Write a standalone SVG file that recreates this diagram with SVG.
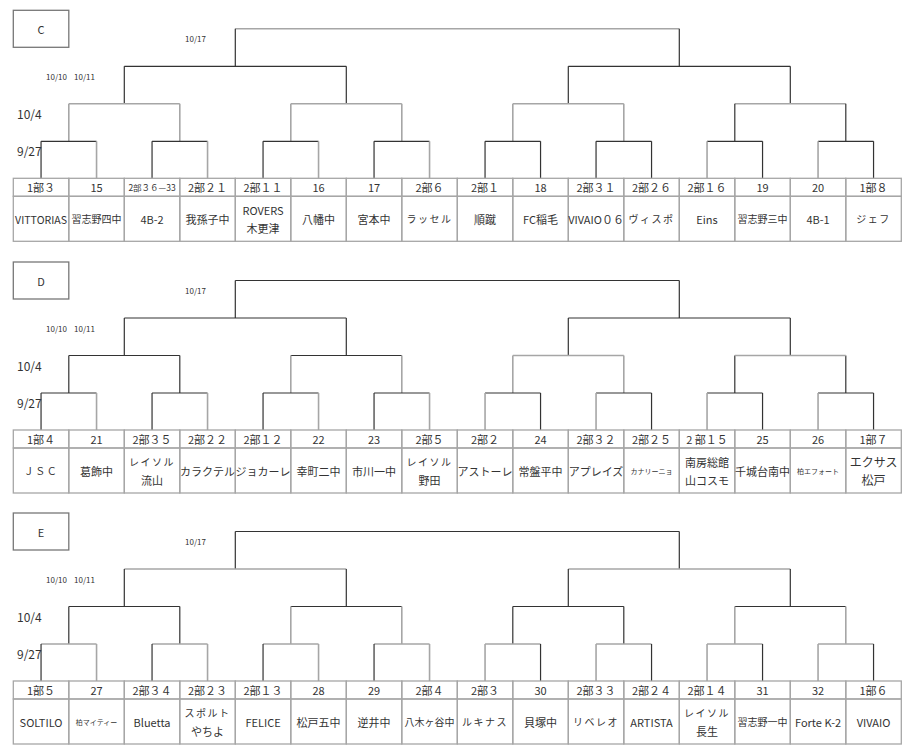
<svg xmlns="http://www.w3.org/2000/svg" width="915" height="751" viewBox="0 0 915 751">
<style>
text{font-family:"Noto Sans CJK JP","Noto Sans",sans-serif;fill:#333;text-anchor:middle;dominant-baseline:central}
.h{font-size:11px}
.hs{font-size:8.5px}
.t{font-size:11px}
.t10{font-size:10px}
.sm{font-size:7px}
.sp{font-size:10px;letter-spacing:1.5px}
.lbl{font-size:11px}
.d{font-size:8px;text-anchor:start}
.r{font-size:12px;text-anchor:start}
.cell{fill:none;stroke:#a6a6a6;stroke-width:1.3}
.box{fill:#fff;stroke:#777;stroke-width:1.3}
.k{stroke:#333;stroke-width:1.2;fill:none}
.g{stroke:#a6a6a6;stroke-width:1.6;fill:none}
</style>
<rect width="915" height="751" fill="#fff"/>

<!-- ===================== C ===================== -->
<g id="bracket-C" transform="translate(0,10.3)">
<g id="C-label"><rect class="box" x="13.3" y="0" width="55.5" height="37"/><text class="lbl" x="41" y="18.5">C</text></g>
<g id="C-dates"><text class="d" x="185" y="28">10/17</text><text class="d" x="46" y="66">10/10</text><text class="d" x="74" y="66">10/11</text><text class="r" x="17" y="103">10/4</text><text class="r" x="17" y="140">9/27</text></g>
<g id="C-connectors">
<path class="g" d="M235.3 18.5H679.3"/>
<path class="k" d="M235.3 18.5V56M679.3 18.5V56"/>
<path class="k" d="M124.3 56H346.3M568.3 56H790.3M124.3 56V93.5M346.3 56V93.5M568.3 56V93.5M790.3 56V93.5"/>
<path class="g" d="M68.8 93.5H179.8M290.8 93.5H401.8M512.8 93.5H623.8M734.8 93.5H845.8M68.8 93.5V131M179.8 93.5V131M290.8 93.5V131M401.8 93.5V131M512.8 93.5V131M623.8 93.5V131"/>
<path class="k" d="M734.8 93.5V131M845.8 93.5V131"/>
<path class="k" d="M41.05 131H96.55M152.05 131H207.55M263.05 131H318.55M374.05 131H429.55M485.05 131H540.55M596.05 131H651.55M707.05 131H762.55M818.05 131H873.55"/>
<path class="k" d="M41.05 131V168M152.05 131V168M263.05 131V168M374.05 131V168M485.05 131V168M540.55 131V168M596.05 131V168M651.55 131V168M762.55 131V168M873.55 131V168"/>
<path class="g" d="M96.55 131V168M207.55 131V168M318.55 131V168M429.55 131V168M707.05 131V168M818.05 131V168"/>
</g>
<g id="C-t01"><rect class="cell" x="13.3" y="168" width="55.5" height="18"/><rect class="cell" x="13.3" y="186" width="55.5" height="45"/><text class="h" x="41.05" y="177">1部３</text><text class="t" x="41.05" y="208.5" textLength="52" lengthAdjust="spacingAndGlyphs">VITTORIAS</text></g>
<g id="C-t02"><rect class="cell" x="68.8" y="168" width="55.5" height="18"/><rect class="cell" x="68.8" y="186" width="55.5" height="45"/><text class="h" x="96.55" y="177">15</text><text class="t10" x="96.55" y="208.5">習志野四中</text></g>
<g id="C-t03"><rect class="cell" x="124.3" y="168" width="55.5" height="18"/><rect class="cell" x="124.3" y="186" width="55.5" height="45"/><text class="hs" x="152.05" y="177">2部３６—33</text><text class="t" x="152.05" y="208.5">4B-2</text></g>
<g id="C-t04"><rect class="cell" x="179.8" y="168" width="55.5" height="18"/><rect class="cell" x="179.8" y="186" width="55.5" height="45"/><text class="h" x="207.55" y="177">2部２１</text><text class="t" x="207.55" y="208.5">我孫子中</text></g>
<g id="C-t05"><rect class="cell" x="235.3" y="168" width="55.5" height="18"/><rect class="cell" x="235.3" y="186" width="55.5" height="45"/><text class="h" x="263.05" y="177">2部１１</text><text class="t" x="263.05" y="199.5">ROVERS</text><text class="t" x="263.05" y="218">木更津</text></g>
<g id="C-t06"><rect class="cell" x="290.8" y="168" width="55.5" height="18"/><rect class="cell" x="290.8" y="186" width="55.5" height="45"/><text class="h" x="318.55" y="177">16</text><text class="t" x="318.55" y="208.5">八幡中</text></g>
<g id="C-t07"><rect class="cell" x="346.3" y="168" width="55.5" height="18"/><rect class="cell" x="346.3" y="186" width="55.5" height="45"/><text class="h" x="374.05" y="177">17</text><text class="t" x="374.05" y="208.5">宮本中</text></g>
<g id="C-t08"><rect class="cell" x="401.8" y="168" width="55.5" height="18"/><rect class="cell" x="401.8" y="186" width="55.5" height="45"/><text class="h" x="429.55" y="177">2部６</text><text class="sp" x="429.55" y="208.5">ラッセル</text></g>
<g id="C-t09"><rect class="cell" x="457.3" y="168" width="55.5" height="18"/><rect class="cell" x="457.3" y="186" width="55.5" height="45"/><text class="h" x="485.05" y="177">2部１</text><text class="t" x="485.05" y="208.5">順蹴</text></g>
<g id="C-t10"><rect class="cell" x="512.8" y="168" width="55.5" height="18"/><rect class="cell" x="512.8" y="186" width="55.5" height="45"/><text class="h" x="540.55" y="177">18</text><text class="t" x="540.55" y="208.5">FC稲毛</text></g>
<g id="C-t11"><rect class="cell" x="568.3" y="168" width="55.5" height="18"/><rect class="cell" x="568.3" y="186" width="55.5" height="45"/><text class="h" x="596.05" y="177">2部３１</text><text class="t" x="596.05" y="208.5">VIVAIO０６</text></g>
<g id="C-t12"><rect class="cell" x="623.8" y="168" width="55.5" height="18"/><rect class="cell" x="623.8" y="186" width="55.5" height="45"/><text class="h" x="651.55" y="177">2部２６</text><text class="sp" x="651.55" y="208.5">ヴィスポ</text></g>
<g id="C-t13"><rect class="cell" x="679.3" y="168" width="55.5" height="18"/><rect class="cell" x="679.3" y="186" width="55.5" height="45"/><text class="h" x="707.05" y="177">2部１６</text><text class="t" x="707.05" y="208.5">Eins</text></g>
<g id="C-t14"><rect class="cell" x="734.8" y="168" width="55.5" height="18"/><rect class="cell" x="734.8" y="186" width="55.5" height="45"/><text class="h" x="762.55" y="177">19</text><text class="t10" x="762.55" y="208.5">習志野三中</text></g>
<g id="C-t15"><rect class="cell" x="790.3" y="168" width="55.5" height="18"/><rect class="cell" x="790.3" y="186" width="55.5" height="45"/><text class="h" x="818.05" y="177">20</text><text class="t" x="818.05" y="208.5">4B-1</text></g>
<g id="C-t16"><rect class="cell" x="845.8" y="168" width="55.5" height="18"/><rect class="cell" x="845.8" y="186" width="55.5" height="45"/><text class="h" x="873.55" y="177">1部８</text><text class="sp" x="873.55" y="208.5">ジェフ</text></g>
</g>

<!-- ===================== D ===================== -->
<g id="bracket-D" transform="translate(0,262)">
<g id="D-label"><rect class="box" x="13.3" y="0" width="55.5" height="37"/><text class="lbl" x="41" y="18.5">D</text></g>
<g id="D-dates"><text class="d" x="185" y="28">10/17</text><text class="d" x="46" y="66">10/10</text><text class="d" x="74" y="66">10/11</text><text class="r" x="17" y="103">10/4</text><text class="r" x="17" y="140">9/27</text></g>
<g id="D-connectors">
<path class="k" d="M235.3 18.5H679.3M235.3 18.5V56M679.3 18.5V56"/>
<path class="k" d="M124.3 56H346.3M568.3 56H790.3M124.3 56V93.5M346.3 56V93.5M568.3 56V93.5M790.3 56V93.5"/>
<path class="k" d="M68.8 93.5H179.8M290.8 93.5H401.8M68.8 93.5V131M179.8 93.5V131M734.8 93.5V131M845.8 93.5V131"/>
<path class="g" d="M512.8 93.5H623.8M734.8 93.5H845.8M290.8 93.5V131M401.8 93.5V131M512.8 93.5V131M623.8 93.5V131"/>
<path class="k" d="M41.05 131H96.55M152.05 131H207.55M263.05 131H318.55M374.05 131H429.55M485.05 131H540.55M596.05 131H651.55M707.05 131H762.55M818.05 131H873.55"/>
<path class="k" d="M41.05 131V168M152.05 131V168M263.05 131V168M374.05 131V168M540.55 131V168M651.55 131V168M762.55 131V168M873.55 131V168"/>
<path class="g" d="M96.55 131V168M207.55 131V168M318.55 131V168M429.55 131V168M485.05 131V168M596.05 131V168M707.05 131V168M818.05 131V168"/>
</g>
<g id="D-t01"><rect class="cell" x="13.3" y="168" width="55.5" height="18"/><rect class="cell" x="13.3" y="186" width="55.5" height="45"/><text class="h" x="41.05" y="177">1部４</text><text class="sp" x="41.05" y="208.5">ＪＳＣ</text></g>
<g id="D-t02"><rect class="cell" x="68.8" y="168" width="55.5" height="18"/><rect class="cell" x="68.8" y="186" width="55.5" height="45"/><text class="h" x="96.55" y="177">21</text><text class="t" x="96.55" y="208.5">葛飾中</text></g>
<g id="D-t03"><rect class="cell" x="124.3" y="168" width="55.5" height="18"/><rect class="cell" x="124.3" y="186" width="55.5" height="45"/><text class="h" x="152.05" y="177">2部３５</text><text class="sp" x="152.05" y="199.5">レイソル</text><text class="t" x="152.05" y="218">流山</text></g>
<g id="D-t04"><rect class="cell" x="179.8" y="168" width="55.5" height="18"/><rect class="cell" x="179.8" y="186" width="55.5" height="45"/><text class="h" x="207.55" y="177">2部２２</text><text class="t" x="207.55" y="208.5">カラクテル</text></g>
<g id="D-t05"><rect class="cell" x="235.3" y="168" width="55.5" height="18"/><rect class="cell" x="235.3" y="186" width="55.5" height="45"/><text class="h" x="263.05" y="177">2部１２</text><text class="t" x="263.05" y="208.5">ジョカーレ</text></g>
<g id="D-t06"><rect class="cell" x="290.8" y="168" width="55.5" height="18"/><rect class="cell" x="290.8" y="186" width="55.5" height="45"/><text class="h" x="318.55" y="177">22</text><text class="t" x="318.55" y="208.5">幸町二中</text></g>
<g id="D-t07"><rect class="cell" x="346.3" y="168" width="55.5" height="18"/><rect class="cell" x="346.3" y="186" width="55.5" height="45"/><text class="h" x="374.05" y="177">23</text><text class="t" x="374.05" y="208.5">市川一中</text></g>
<g id="D-t08"><rect class="cell" x="401.8" y="168" width="55.5" height="18"/><rect class="cell" x="401.8" y="186" width="55.5" height="45"/><text class="h" x="429.55" y="177">2部５</text><text class="sp" x="429.55" y="199.5">レイソル</text><text class="t" x="429.55" y="218">野田</text></g>
<g id="D-t09"><rect class="cell" x="457.3" y="168" width="55.5" height="18"/><rect class="cell" x="457.3" y="186" width="55.5" height="45"/><text class="h" x="485.05" y="177">2部２</text><text class="t" x="485.05" y="208.5">アストーレ</text></g>
<g id="D-t10"><rect class="cell" x="512.8" y="168" width="55.5" height="18"/><rect class="cell" x="512.8" y="186" width="55.5" height="45"/><text class="h" x="540.55" y="177">24</text><text class="t" x="540.55" y="208.5">常盤平中</text></g>
<g id="D-t11"><rect class="cell" x="568.3" y="168" width="55.5" height="18"/><rect class="cell" x="568.3" y="186" width="55.5" height="45"/><text class="h" x="596.05" y="177">2部３２</text><text class="t" x="596.05" y="208.5">アプレイズ</text></g>
<g id="D-t12"><rect class="cell" x="623.8" y="168" width="55.5" height="18"/><rect class="cell" x="623.8" y="186" width="55.5" height="45"/><text class="h" x="651.55" y="177">2部２５</text><text class="sm" x="651.55" y="208.5">カナリーニョ</text></g>
<g id="D-t13"><rect class="cell" x="679.3" y="168" width="55.5" height="18"/><rect class="cell" x="679.3" y="186" width="55.5" height="45"/><text class="h" x="707.05" y="177">2 部１５</text><text class="t" x="707.05" y="199.5">南房総館</text><text class="t" x="707.05" y="218">山コスモ</text></g>
<g id="D-t14"><rect class="cell" x="734.8" y="168" width="55.5" height="18"/><rect class="cell" x="734.8" y="186" width="55.5" height="45"/><text class="h" x="762.55" y="177">25</text><text class="t" x="762.55" y="208.5">千城台南中</text></g>
<g id="D-t15"><rect class="cell" x="790.3" y="168" width="55.5" height="18"/><rect class="cell" x="790.3" y="186" width="55.5" height="45"/><text class="h" x="818.05" y="177">26</text><text class="sm" x="818.05" y="208.5">柏エフォート</text></g>
<g id="D-t16"><rect class="cell" x="845.8" y="168" width="55.5" height="18"/><rect class="cell" x="845.8" y="186" width="55.5" height="45"/><text class="h" x="873.55" y="177">1部７</text><text class="t" x="873.55" y="199.5" style="font-size:12px">エクサス</text><text class="t" x="873.55" y="217.5" style="font-size:12px">松戸</text></g>
</g>

<!-- ===================== E ===================== -->
<g id="bracket-E" transform="translate(0,513)">
<g id="E-label"><rect class="box" x="13.3" y="0" width="55.5" height="37"/><text class="lbl" x="41" y="18.5">E</text></g>
<g id="E-dates"><text class="d" x="185" y="28">10/17</text><text class="d" x="46" y="66">10/10</text><text class="d" x="74" y="66">10/11</text><text class="r" x="17" y="103">10/4</text><text class="r" x="17" y="140">9/27</text></g>
<g id="E-connectors">
<path class="k" d="M235.3 18.5H679.3M235.3 18.5V56M679.3 18.5V56"/>
<path class="g" d="M124.3 56H346.3M568.3 56H790.3"/>
<path class="k" d="M124.3 56V93.5M346.3 56V93.5M568.3 56V93.5M790.3 56V93.5"/>
<path class="k" d="M68.8 93.5H179.8M290.8 93.5H401.8M512.8 93.5H623.8M734.8 93.5H845.8M68.8 93.5V131M179.8 93.5V131M512.8 93.5V131M623.8 93.5V131"/>
<path class="g" d="M290.8 93.5V131M401.8 93.5V131M734.8 93.5V131M845.8 93.5V131"/>
<path class="g" d="M41.05 131H96.55M152.05 131H207.55M263.05 131H318.55M374.05 131H429.55M485.05 131H540.55M596.05 131H651.55M707.05 131H762.55M818.05 131H873.55"/>
<path class="k" d="M41.05 131V168M152.05 131V168M263.05 131V168M374.05 131V168M540.55 131V168M651.55 131V168M762.55 131V168M873.55 131V168"/>
<path class="g" d="M96.55 131V168M207.55 131V168M318.55 131V168M429.55 131V168M485.05 131V168M596.05 131V168M707.05 131V168M818.05 131V168"/>
</g>
<g id="E-t01"><rect class="cell" x="13.3" y="168" width="55.5" height="18"/><rect class="cell" x="13.3" y="186" width="55.5" height="45"/><text class="h" x="41.05" y="177">1部５</text><text class="t" x="41.05" y="208.5">SOLTILO</text></g>
<g id="E-t02"><rect class="cell" x="68.8" y="168" width="55.5" height="18"/><rect class="cell" x="68.8" y="186" width="55.5" height="45"/><text class="h" x="96.55" y="177">27</text><text class="sm" x="96.55" y="208.5">柏マイティー</text></g>
<g id="E-t03"><rect class="cell" x="124.3" y="168" width="55.5" height="18"/><rect class="cell" x="124.3" y="186" width="55.5" height="45"/><text class="h" x="152.05" y="177">2部３４</text><text class="t" x="152.05" y="208.5">Bluetta</text></g>
<g id="E-t04"><rect class="cell" x="179.8" y="168" width="55.5" height="18"/><rect class="cell" x="179.8" y="186" width="55.5" height="45"/><text class="h" x="207.55" y="177">2部２３</text><text class="sp" x="207.55" y="199.5">スポルト</text><text class="t" x="207.55" y="218">やちよ</text></g>
<g id="E-t05"><rect class="cell" x="235.3" y="168" width="55.5" height="18"/><rect class="cell" x="235.3" y="186" width="55.5" height="45"/><text class="h" x="263.05" y="177">2部１３</text><text class="t" x="263.05" y="208.5">FELICE</text></g>
<g id="E-t06"><rect class="cell" x="290.8" y="168" width="55.5" height="18"/><rect class="cell" x="290.8" y="186" width="55.5" height="45"/><text class="h" x="318.55" y="177">28</text><text class="t" x="318.55" y="208.5">松戸五中</text></g>
<g id="E-t07"><rect class="cell" x="346.3" y="168" width="55.5" height="18"/><rect class="cell" x="346.3" y="186" width="55.5" height="45"/><text class="h" x="374.05" y="177">29</text><text class="t" x="374.05" y="208.5">逆井中</text></g>
<g id="E-t08"><rect class="cell" x="401.8" y="168" width="55.5" height="18"/><rect class="cell" x="401.8" y="186" width="55.5" height="45"/><text class="h" x="429.55" y="177">2部４</text><text class="t10" x="429.55" y="208.5">八木ヶ谷中</text></g>
<g id="E-t09"><rect class="cell" x="457.3" y="168" width="55.5" height="18"/><rect class="cell" x="457.3" y="186" width="55.5" height="45"/><text class="h" x="485.05" y="177">2部３</text><text class="sp" x="485.05" y="208.5">ルキナス</text></g>
<g id="E-t10"><rect class="cell" x="512.8" y="168" width="55.5" height="18"/><rect class="cell" x="512.8" y="186" width="55.5" height="45"/><text class="h" x="540.55" y="177">30</text><text class="t" x="540.55" y="208.5">貝塚中</text></g>
<g id="E-t11"><rect class="cell" x="568.3" y="168" width="55.5" height="18"/><rect class="cell" x="568.3" y="186" width="55.5" height="45"/><text class="h" x="596.05" y="177">2部３３</text><text class="sp" x="596.05" y="208.5">リベレオ</text></g>
<g id="E-t12"><rect class="cell" x="623.8" y="168" width="55.5" height="18"/><rect class="cell" x="623.8" y="186" width="55.5" height="45"/><text class="h" x="651.55" y="177">2部２４</text><text class="t" x="651.55" y="208.5">ARTISTA</text></g>
<g id="E-t13"><rect class="cell" x="679.3" y="168" width="55.5" height="18"/><rect class="cell" x="679.3" y="186" width="55.5" height="45"/><text class="h" x="707.05" y="177">2部１４</text><text class="sp" x="707.05" y="199.5">レイソル</text><text class="t" x="707.05" y="218">長生</text></g>
<g id="E-t14"><rect class="cell" x="734.8" y="168" width="55.5" height="18"/><rect class="cell" x="734.8" y="186" width="55.5" height="45"/><text class="h" x="762.55" y="177">31</text><text class="t10" x="762.55" y="208.5">習志野一中</text></g>
<g id="E-t15"><rect class="cell" x="790.3" y="168" width="55.5" height="18"/><rect class="cell" x="790.3" y="186" width="55.5" height="45"/><text class="h" x="818.05" y="177">32</text><text class="t" x="818.05" y="208.5">Forte K-2</text></g>
<g id="E-t16"><rect class="cell" x="845.8" y="168" width="55.5" height="18"/><rect class="cell" x="845.8" y="186" width="55.5" height="45"/><text class="h" x="873.55" y="177">1部６</text><text class="t" x="873.55" y="208.5">VIVAIO</text></g>
</g>
</svg>
